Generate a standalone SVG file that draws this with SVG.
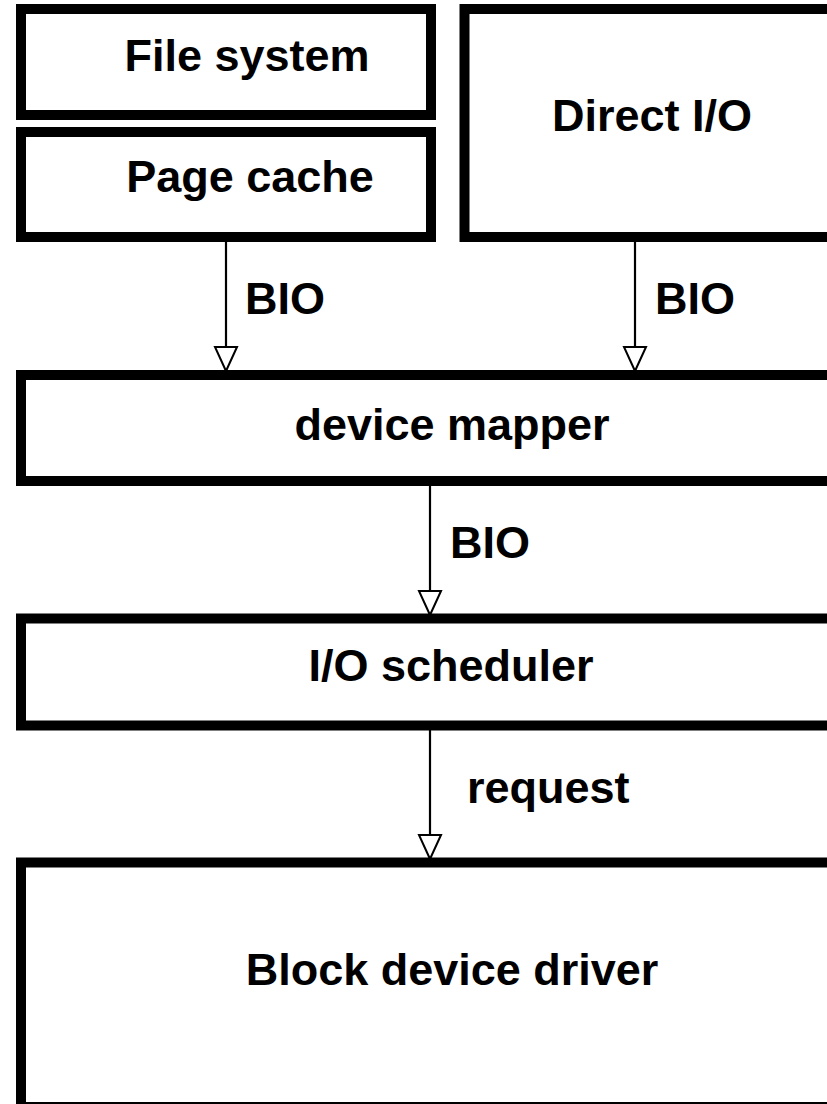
<svg xmlns="http://www.w3.org/2000/svg" width="827" height="1104" viewBox="0 0 827 1104">
  <style>
    .box { fill: #ffffff; stroke: #000000; stroke-width: 10; }
    .lbl { font-family: "Liberation Sans", Arial, Helvetica, sans-serif; font-weight: bold; font-size: 45px; fill: #000000; }
    .mid { text-anchor: middle; }
    .conn { stroke: #000000; stroke-width: 2.2; fill: none; marker-end: url(#hollow); }
  </style>
  <defs>
    <marker id="hollow" viewBox="-2 -2 28 26" markerUnits="userSpaceOnUse" markerWidth="28" markerHeight="26" refX="24" refY="11" orient="auto" overflow="visible">
      <polygon points="0,0 24,11 0,22" fill="#ffffff" stroke="#000000" stroke-width="2" stroke-linejoin="miter"/>
    </marker>
  </defs>
  <rect width="827" height="1104" fill="#ffffff"/>

  <g id="file-system">
    <rect class="box" x="21" y="9" width="410" height="106"/>
    <text class="lbl mid" x="247" y="71">File system</text>
  </g>
  <g id="page-cache">
    <rect class="box" x="21" y="132" width="410" height="105"/>
    <text class="lbl mid" x="250" y="192">Page cache</text>
  </g>
  <g id="direct-io">
    <rect class="box" x="464.5" y="9" width="420" height="228"/>
    <text class="lbl mid" x="652" y="131">Direct I/O</text>
  </g>
  <g id="device-mapper">
    <rect class="box" x="21" y="375" width="870" height="106"/>
    <text class="lbl mid" x="452" y="440">device mapper</text>
  </g>
  <g id="io-scheduler">
    <rect class="box" x="21" y="618.5" width="870" height="107"/>
    <text class="lbl mid" x="451" y="681">I/O scheduler</text>
  </g>
  <g id="block-device-driver">
    <rect class="box" x="21" y="862.5" width="870" height="244.5"/>
    <text class="lbl mid" x="452" y="985">Block device driver</text>
  </g>

  <g id="connectors">
    <line class="conn" x1="226" y1="242" x2="226" y2="371"/>
    <text class="lbl" x="245" y="314">BIO</text>
    <line class="conn" x1="635" y1="242" x2="635" y2="371"/>
    <text class="lbl" x="655" y="314">BIO</text>
    <line class="conn" x1="430" y1="486" x2="430" y2="615"/>
    <text class="lbl" x="450" y="558">BIO</text>
    <line class="conn" x1="430" y1="730" x2="430" y2="859"/>
    <text class="lbl" x="467" y="803">request</text>
  </g>
</svg>
